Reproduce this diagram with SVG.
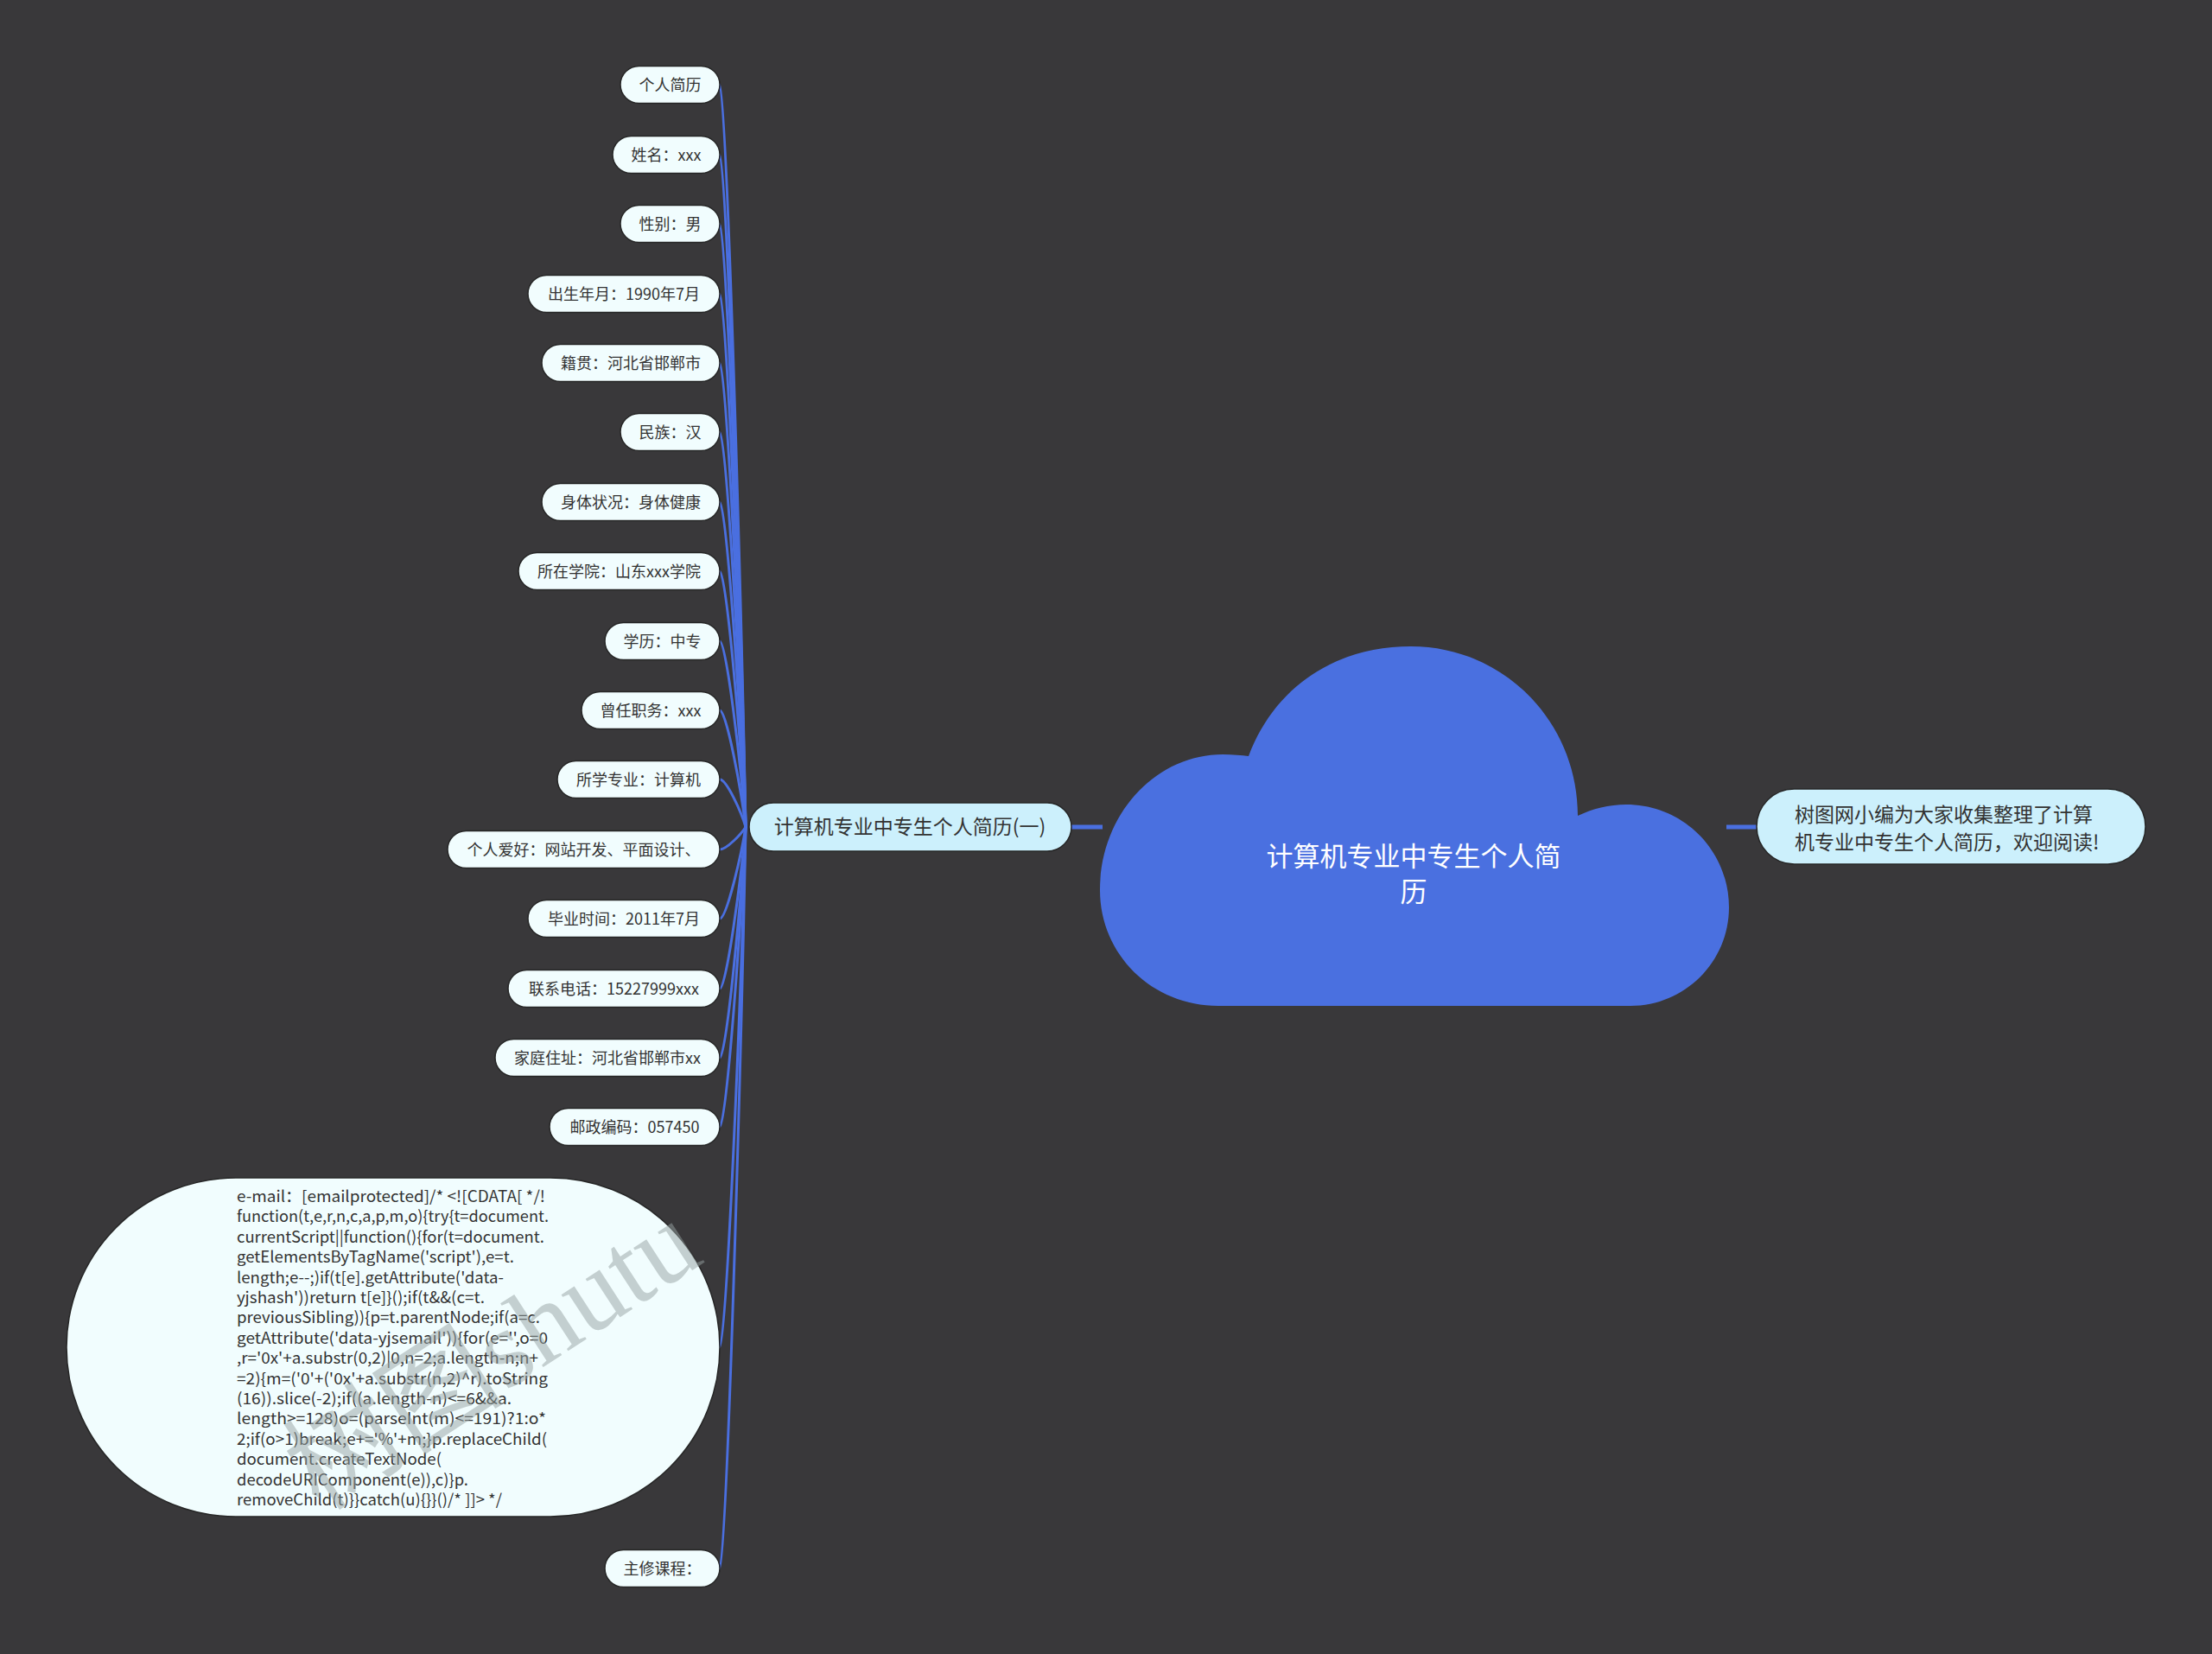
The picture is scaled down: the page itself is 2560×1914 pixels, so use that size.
<svg xmlns="http://www.w3.org/2000/svg" width="2560" height="1914" viewBox="0 0 2560 1914">
<style>
.leaf{fill:#f1fdfe;stroke:#262626;stroke-width:1.5}
.sub{fill:#ccf0fc;stroke:#262626;stroke-width:1.5}
.t{font-family:"Noto Sans CJK SC","Noto Sans",sans-serif;fill:#333333}
.lt{font-size:18px;text-anchor:middle}
.code{font-size:18px}
.conn{fill:none;stroke:#4a6fe0;stroke-width:3;stroke-linecap:round}
.thick{fill:none;stroke:#4a6fe0;stroke-width:5}
</style>
<rect x="0" y="0" width="2560" height="1914" fill="#39383a"/>

<g id="connectors">
<path class="thick" d="M1240 957 L1276 957"/>
<path class="thick" d="M1998 957 L2034 957"/>
<path class="conn" d="M833 98 C841 98 858 699 863 957"/>
<path class="conn" d="M833 179 C841 179 858 724 863 957"/>
<path class="conn" d="M833 259 C841 259 858 748 863 957"/>
<path class="conn" d="M833 340 C841 340 858 772 863 957"/>
<path class="conn" d="M833 420 C841 420 858 796 863 957"/>
<path class="conn" d="M833 500 C841 500 858 820 863 957"/>
<path class="conn" d="M833 581 C841 581 858 844 863 957"/>
<path class="conn" d="M833 661 C841 661 858 868 863 957"/>
<path class="conn" d="M833 742 C841 742 858 892 863 957"/>
<path class="conn" d="M833 822 C841 822 858 916 863 957"/>
<path class="conn" d="M833 902 C841 902 858 940 863 957"/>
<path class="conn" d="M833 983 C841 983 858 965 863 957"/>
<path class="conn" d="M833 1063 C841 1063 858 989 863 957"/>
<path class="conn" d="M833 1144 C841 1144 858 1013 863 957"/>
<path class="conn" d="M833 1224 C841 1224 858 1037 863 957"/>
<path class="conn" d="M833 1304 C841 1304 858 1061 863 957"/>
<path class="conn" d="M833 1559 C841 1559 858 1138 863 957"/>
<path class="conn" d="M833 1815 C841 1815 858 1214 863 957"/>
</g>

<g id="root">
<path d="M1445 875 C1475 795 1545 748 1633 748 C1740 748 1826 835 1826 944 C1843 936 1862 931 1882 931 C1948 931 2001 984 2001 1050 C2001 1113 1950 1164 1887 1164 L1410 1164 C1334 1164 1273 1105 1273 1030 C1273 943 1337 873 1415 873 C1427 873 1437 874 1445 875 Z" fill="#4a70e0"/>
<text class="t" x="1636" y="1002" font-size="31" text-anchor="middle" style="fill:#ffffff">计算机专业中专生个人简</text>
<text class="t" x="1636" y="1043" font-size="31" text-anchor="middle" style="fill:#ffffff">历</text>
</g>

<g id="summary">
<rect class="sub" x="2033" y="913" width="450" height="87" rx="43.5"/>
<text class="t" x="2077" y="951" font-size="23">树图网小编为大家收集整理了计算</text>
<text class="t" x="2077" y="983" font-size="23">机专业中专生个人简历，欢迎阅读!</text>
</g>

<g id="branch">
<rect class="sub" x="867" y="929" width="373" height="56" rx="28"/>
<text class="t" x="1053" y="965" font-size="23" text-anchor="middle">计算机专业中专生个人简历(一)</text>
</g>

<g id="leaf1"><rect class="leaf" x="718" y="76.5" width="115" height="43" rx="21.5"/><text class="t lt" x="775.5" y="104.5">个人简历</text></g>
<g id="leaf2"><rect class="leaf" x="709" y="157.5" width="124" height="43" rx="21.5"/><text class="t lt" x="771" y="185.5">姓名：xxx</text></g>
<g id="leaf3"><rect class="leaf" x="718" y="237.5" width="115" height="43" rx="21.5"/><text class="t lt" x="775.5" y="265.5">性别：男</text></g>
<g id="leaf4"><rect class="leaf" x="611" y="318.5" width="222" height="43" rx="21.5"/><text class="t lt" x="722" y="346.5">出生年月：1990年7月</text></g>
<g id="leaf5"><rect class="leaf" x="627" y="398.5" width="206" height="43" rx="21.5"/><text class="t lt" x="730" y="426.5">籍贯：河北省邯郸市</text></g>
<g id="leaf6"><rect class="leaf" x="718" y="478.5" width="115" height="43" rx="21.5"/><text class="t lt" x="775.5" y="506.5">民族：汉</text></g>
<g id="leaf7"><rect class="leaf" x="627" y="559.5" width="206" height="43" rx="21.5"/><text class="t lt" x="730" y="587.5">身体状况：身体健康</text></g>
<g id="leaf8"><rect class="leaf" x="600" y="639.5" width="233" height="43" rx="21.5"/><text class="t lt" x="716.5" y="667.5">所在学院：山东xxx学院</text></g>
<g id="leaf9"><rect class="leaf" x="700" y="720.5" width="133" height="43" rx="21.5"/><text class="t lt" x="766.5" y="748.5">学历：中专</text></g>
<g id="leaf10"><rect class="leaf" x="673" y="800.5" width="160" height="43" rx="21.5"/><text class="t lt" x="753" y="828.5">曾任职务：xxx</text></g>
<g id="leaf11"><rect class="leaf" x="645" y="880.5" width="188" height="43" rx="21.5"/><text class="t lt" x="739" y="908.5">所学专业：计算机</text></g>
<g id="leaf12"><rect class="leaf" x="518" y="961.5" width="315" height="43" rx="21.5"/><text class="t lt" x="675.5" y="989.5">个人爱好：网站开发、平面设计、</text></g>
<g id="leaf13"><rect class="leaf" x="611" y="1041.5" width="222" height="43" rx="21.5"/><text class="t lt" x="722" y="1069.5">毕业时间：2011年7月</text></g>
<g id="leaf14"><rect class="leaf" x="588" y="1122.5" width="245" height="43" rx="21.5"/><text class="t lt" x="710.5" y="1150.5">联系电话：15227999xxx</text></g>
<g id="leaf15"><rect class="leaf" x="573" y="1202.5" width="260" height="43" rx="21.5"/><text class="t lt" x="703" y="1230.5">家庭住址：河北省邯郸市xx</text></g>
<g id="leaf16"><rect class="leaf" x="636" y="1282.5" width="197" height="43" rx="21.5"/><text class="t lt" x="734.5" y="1310.5">邮政编码：057450</text></g>

<g id="leaf17">
<rect class="leaf" x="77" y="1363" width="756" height="392" rx="196"/>
<text class="t code" x="274" y="1391" textLength="357" lengthAdjust="spacingAndGlyphs">e-mail：[emailprotected]/* &lt;![CDATA[ */!</text>
<text class="t code" x="274" y="1414.4" textLength="361" lengthAdjust="spacingAndGlyphs">function(t,e,r,n,c,a,p,m,o){try{t=document.</text>
<text class="t code" x="274" y="1437.8" textLength="356" lengthAdjust="spacingAndGlyphs">currentScript||function(){for(t=document.</text>
<text class="t code" x="274" y="1461.2" textLength="321" lengthAdjust="spacingAndGlyphs">getElementsByTagName('script'),e=t.</text>
<text class="t code" x="274" y="1484.6" textLength="309" lengthAdjust="spacingAndGlyphs">length;e--;)if(t[e].getAttribute('data-</text>
<text class="t code" x="274" y="1508" textLength="287" lengthAdjust="spacingAndGlyphs">yjshash'))return t[e]}();if(t&amp;&amp;(c=t.</text>
<text class="t code" x="274" y="1531.4" textLength="351" lengthAdjust="spacingAndGlyphs">previousSibling)){p=t.parentNode;if(a=c.</text>
<text class="t code" x="274" y="1554.8" textLength="360" lengthAdjust="spacingAndGlyphs">getAttribute('data-yjsemail')){for(e='',o=0</text>
<text class="t code" x="274" y="1578.2" textLength="349" lengthAdjust="spacingAndGlyphs">,r='0x'+a.substr(0,2)|0,n=2;a.length-n;n+</text>
<text class="t code" x="274" y="1601.6" textLength="360" lengthAdjust="spacingAndGlyphs">=2){m=('0'+('0x'+a.substr(n,2)^r).toString</text>
<text class="t code" x="274" y="1625" textLength="318" lengthAdjust="spacingAndGlyphs">(16)).slice(-2);if((a.length-n)&lt;=6&amp;&amp;a.</text>
<text class="t code" x="274" y="1648.4" textLength="358" lengthAdjust="spacingAndGlyphs">length&gt;=128)o=(parseInt(m)&lt;=191)?1:o*</text>
<text class="t code" x="274" y="1671.8" textLength="359" lengthAdjust="spacingAndGlyphs">2;if(o&gt;1)break;e+='%'+m;}p.replaceChild(</text>
<text class="t code" x="274" y="1695.2" textLength="237" lengthAdjust="spacingAndGlyphs">document.createTextNode(</text>
<text class="t code" x="274" y="1718.6" textLength="268" lengthAdjust="spacingAndGlyphs">decodeURIComponent(e)),c)}p.</text>
<text class="t code" x="274" y="1742" textLength="307" lengthAdjust="spacingAndGlyphs">removeChild(t)}}catch(u){}}()/* ]]&gt; */</text>
</g>

<g id="leaf18"><rect class="leaf" x="700" y="1793.5" width="133" height="43" rx="21.5"/><text class="t lt" x="766.5" y="1821.5">主修课程：</text></g>

<g id="watermark" opacity="0.5" fill="#97a3a3">
<text x="370" y="1750" transform="rotate(-33 370 1750)" font-size="128"><tspan font-family="Noto Sans CJK SC, sans-serif">树图</tspan><tspan font-family="Liberation Serif, serif">shutu</tspan></text>
</g>
</svg>
